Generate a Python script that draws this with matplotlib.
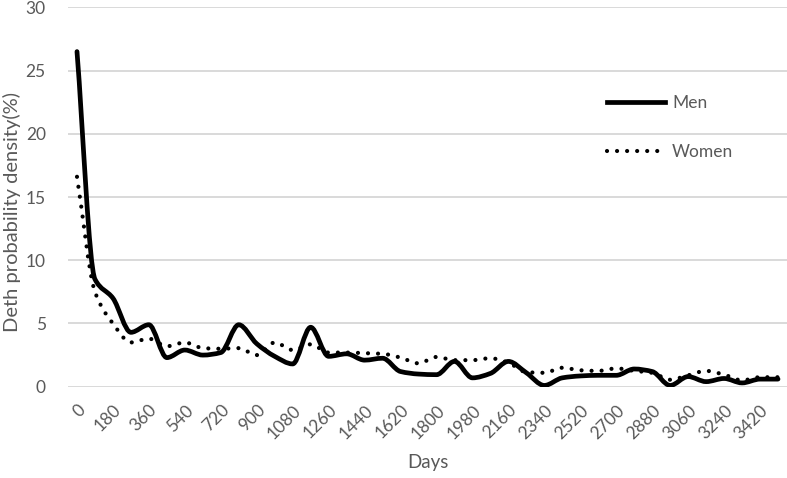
import numpy as np
import matplotlib
matplotlib.use('Agg')
import matplotlib.pyplot as plt
from matplotlib.path import Path
from matplotlib.patches import PathPatch
from matplotlib.lines import Line2D

days = list(range(0, 3600, 90))
men = [26.5, 8.5, 7.0, 4.3, 4.9, 2.3, 2.9, 2.5, 2.7, 4.9,
       3.4, 2.4, 1.8, 4.7, 2.4, 2.6, 2.1, 2.25, 1.2, 1.0,
       0.95, 2.0, 0.7, 1.05, 2.0, 1.1, 0.1, 0.7, 0.85, 0.9,
       0.9, 1.4, 1.2, 0.1, 0.8, 0.4, 0.65, 0.3, 0.6, 0.6]
women = [16.6, 7.5, 5.0, 3.5, 3.8, 3.2, 3.5, 3.05, 3.0, 3.05,
         2.5, 3.5, 2.9, 3.35, 2.7, 2.7, 2.65, 2.6, 2.3, 1.85,
         2.35, 2.1, 2.1, 2.25, 1.9, 1.15, 1.1, 1.5, 1.3, 1.25,
         1.45, 1.25, 1.1, 0.55, 0.9, 1.25, 0.95, 0.5, 0.75, 0.75]
tick_labels = [str(d) for d in days[::2]]

TXT = '#595959'
plt.rcParams['font.family'] = ['Lato', 'DejaVu Sans']


def smooth_path(ys):
    # smoothed line: cubic bezier through each point, monotone tangents
    y = np.asarray(ys, dtype=float)
    n = len(y)
    d = np.diff(y)
    m = np.zeros(n)
    m[0], m[-1] = d[0], d[-1]
    for i in range(1, n - 1):
        if d[i - 1] * d[i] > 0:
            m[i] = 2.0 / (1.0 / d[i - 1] + 1.0 / d[i])
    verts = [(0, y[0])]
    codes = [Path.MOVETO]
    for i in range(n - 1):
        verts += [(i + 1 / 3, y[i] + m[i] / 3),
                  (i + 2 / 3, y[i + 1] - m[i + 1] / 3),
                  (i + 1, y[i + 1])]
        codes += [Path.CURVE4] * 3
    return Path(verts, codes)


fig = plt.figure(figsize=(7.87, 4.78), dpi=100)
ax = fig.add_axes([0.0864, 0.191, 0.9136, 0.7937])

dot_style = (0, (0.01, 2.4))
ax.add_patch(PathPatch(smooth_path(women), fill=False, edgecolor='black',
                       lw=3.0, linestyle=dot_style, capstyle='round', zorder=3))
ax.add_patch(PathPatch(smooth_path(men), fill=False, edgecolor='black',
                       lw=3.4, capstyle='round', joinstyle='round', zorder=4))

ax.set_xlim(-0.5, len(days) - 0.5)
ax.set_ylim(0, 30)
ax.set_yticks(range(0, 31, 5))
ax.set_xticks(range(0, len(days), 2))
ax.set_xticklabels(tick_labels, rotation=45, ha='right', va='top',
                   rotation_mode='anchor')
ax.tick_params(axis='both', length=0, labelsize=12.5, colors=TXT)
ax.tick_params(axis='y', pad=16)
ax.tick_params(axis='x', pad=11)
ax.grid(axis='y', color='#d9d9d9', lw=1.4)
ax.set_axisbelow(True)
for s in ax.spines.values():
    s.set_visible(False)

ax.set_xlabel('Days', fontsize=13.5, color=TXT)
ax.xaxis.set_label_coords(0.5, -0.178)
ax.set_ylabel('Deth probability density(%)', fontsize=14.5, color=TXT)
ax.yaxis.set_label_coords(-0.066, 0.46)

handles = [Line2D([], [], color='black', lw=3.4),
           Line2D([], [], color='black', lw=3.0, linestyle=dot_style,
                  dash_capstyle='round')]
ax.legend(handles, ['Men', 'Women'], loc='upper left',
          bbox_to_anchor=(0.771, 0.802), bbox_transform=fig.transFigure,
          frameon=False, fontsize=12.5, labelcolor=TXT, handlelength=3.35,
          handletextpad=0.4, labelspacing=1.94, borderpad=0, borderaxespad=0)

fig.savefig('out.png', dpi=100)
